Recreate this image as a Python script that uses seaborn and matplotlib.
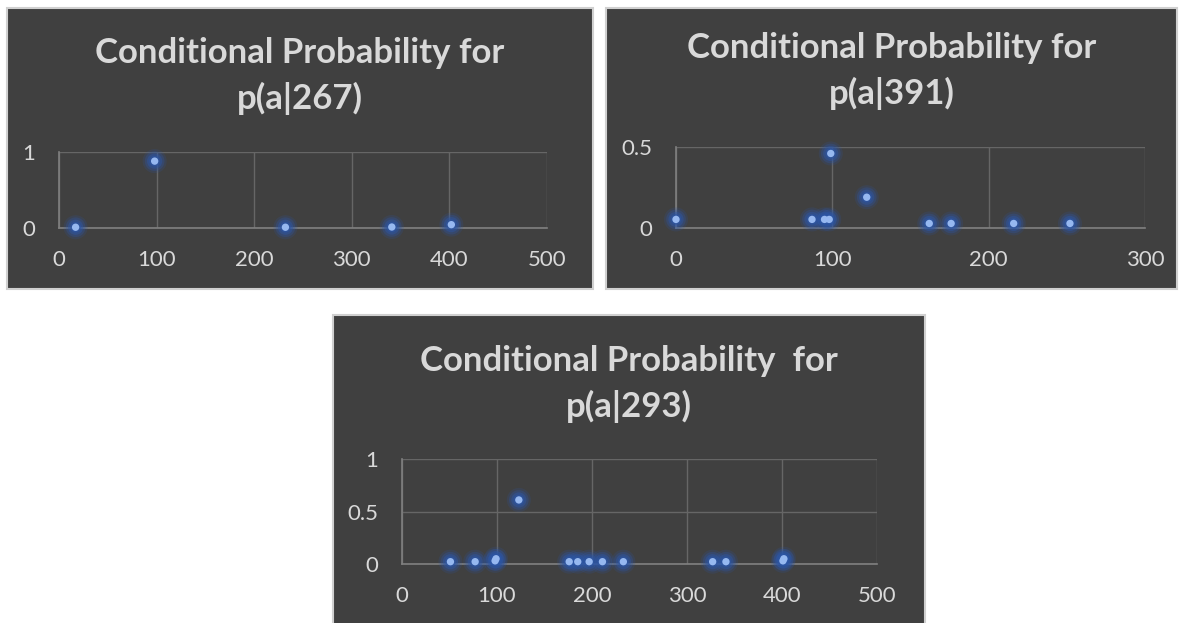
import numpy as np
import pandas as pd
import matplotlib
matplotlib.use("Agg")
import matplotlib.pyplot as plt
from matplotlib.patches import Rectangle
import seaborn as sns

# values
p267_x = [17, 98, 232, 341, 402]
p267_y = [0.01, 0.88, 0.01, 0.013, 0.044]

p391_x = [0, 87, 95, 98, 99, 122, 162, 176, 216, 252]
p391_y = [0.053, 0.053, 0.053, 0.053, 0.46, 0.19, 0.028, 0.028, 0.028, 0.028]

p293_x = [51, 77, 98, 99, 123, 176, 185, 197, 211, 233, 327, 341, 401, 402]
p293_y = [0.022, 0.022, 0.03, 0.05, 0.61, 0.022, 0.022, 0.022, 0.022, 0.022,
          0.022, 0.022, 0.03, 0.05]

titles = ["Conditional Probability for\np(a|267)",
          "Conditional Probability for\np(a|391)",
          "Conditional Probability  for\np(a|293)"]

sns.set_style("dark")
plt.rcParams['font.family'] = ['Lato', 'DejaVu Sans']

BG = "#404040"
TXT = "#d9d9d9"
GRID = "#666666"
SPINE = "#808080"

W, H = 1182, 623
fig = plt.figure(figsize=(W / 100, H / 100), dpi=100)
fig.patch.set_facecolor("white")


def px_box(l, t, r, b):
    # pixel box -> figure fraction [left, bottom, width, height]
    return [l / W, (H - b) / H, (r - l) / W, (b - t) / H]


def panel(l, t, r, b, title, title_y):
    x0, y0, w, h = px_box(l, t, r, b)
    fig.patches.append(Rectangle((x0, y0), w, h, transform=fig.transFigure,
                                 facecolor=BG, edgecolor="#d0d0d0", lw=1.5, zorder=-1))
    fig.text((l + r) / 2 / W, 1 - title_y / H, title, ha="center", va="center",
             color=TXT, fontsize=25, fontweight="bold", linespacing=1.5)


def chart(box, xs, ys, xmax, yticks):
    ax = fig.add_axes(px_box(*box))
    ax.set_facecolor(BG)
    df = pd.DataFrame({"x": xs, "y": ys})
    # soft glow under each marker, then the light core
    for s, a in [(300, 0.18), (200, 0.3), (120, 0.45), (60, 0.6)]:
        sns.scatterplot(data=df, x="x", y="y", ax=ax, s=s, color="#2c56a6",
                        alpha=a, edgecolor="none", zorder=3, clip_on=False)
    sns.scatterplot(data=df, x="x", y="y", ax=ax, s=28, color="#96b8f0",
                    edgecolor="none", zorder=4, clip_on=False)
    ax.set_xlim(0, xmax)
    ax.set_ylim(yticks[0], yticks[-1])
    ax.set_xticks(np.arange(0, xmax + 1, 100))
    ax.set_yticks(yticks)
    ax.set_yticklabels([f"{v:g}" for v in yticks])
    ax.grid(True, color=GRID, lw=1)
    ax.set_xlabel("")
    ax.set_ylabel("")
    ax.tick_params(colors=TXT, labelsize=16, length=0)
    ax.tick_params(axis="y", pad=17)
    ax.tick_params(axis="x", pad=16)
    for side in ["top", "right"]:
        ax.spines[side].set_visible(False)
    for side in ["left", "bottom"]:
        ax.spines[side].set_visible(True)
        ax.spines[side].set_color(SPINE)
        ax.spines[side].set_linewidth(1.2)
    return ax


panel(7, 8, 593, 289, titles[0], 76)
panel(606, 8, 1177, 289, titles[1], 71)
panel(333, 315, 925, 640, titles[2], 384)

chart((59, 152, 547, 228), p267_x, p267_y, 500, [0, 1])
chart((676, 147, 1145, 228), p391_x, p391_y, 300, [0, 0.5])
chart((402, 459, 877, 564), p293_x, p293_y, 500, [0, 0.5, 1])

fig.savefig("out.png", dpi=100, facecolor=fig.get_facecolor())
